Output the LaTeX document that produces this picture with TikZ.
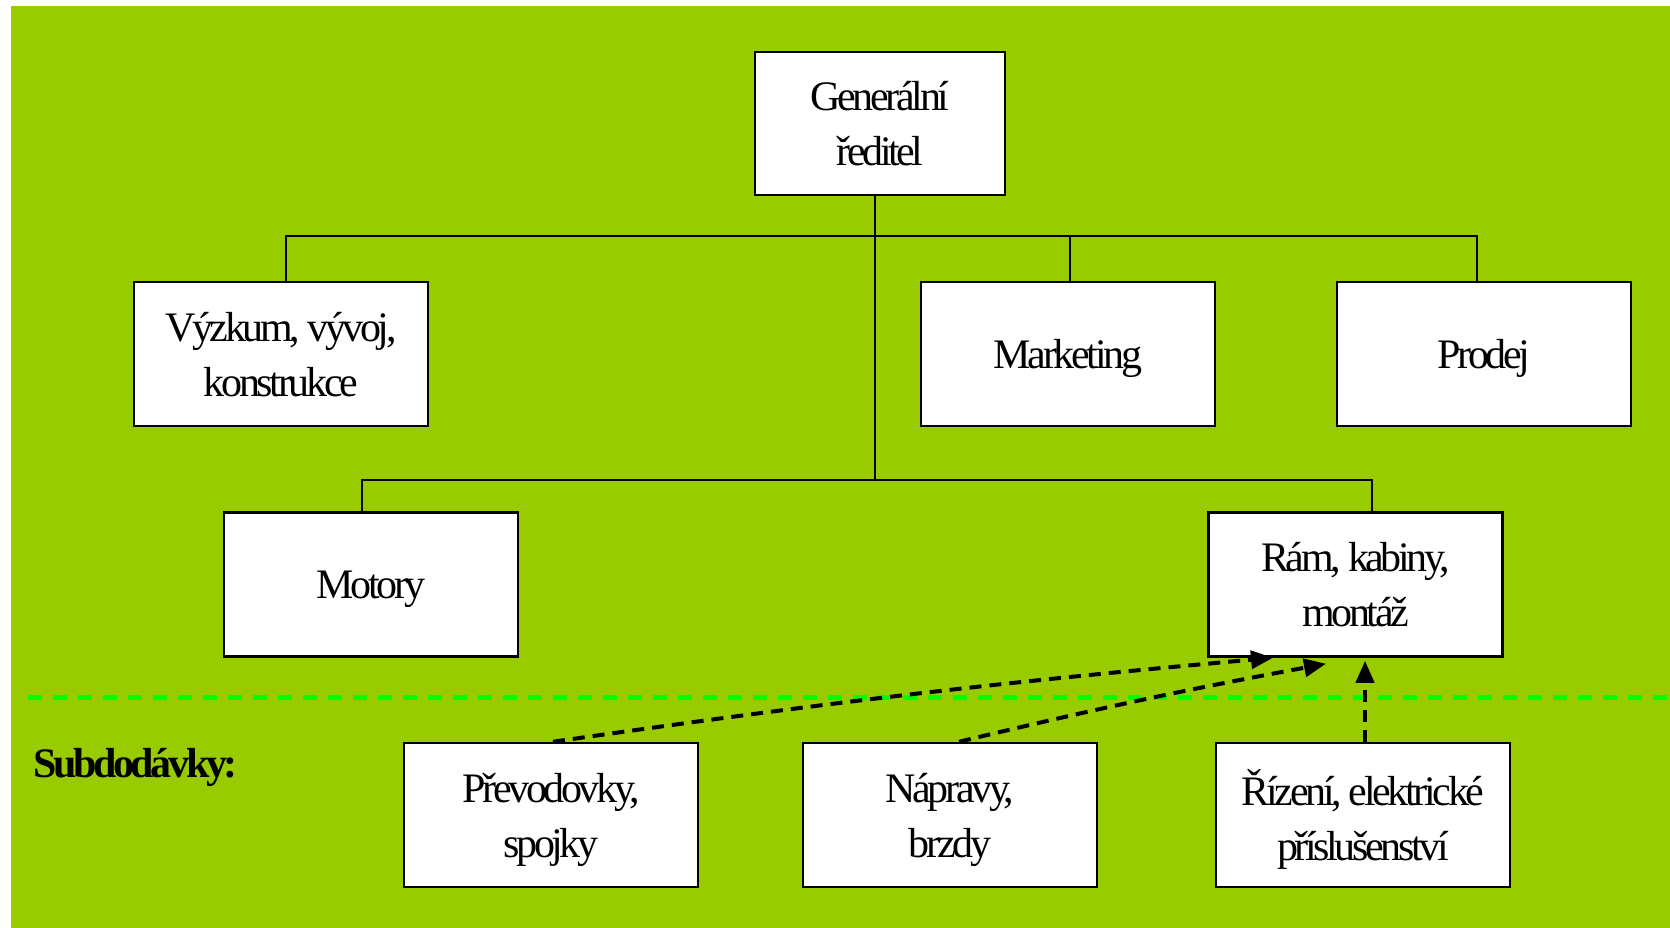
\documentclass[tikz,border=0pt]{standalone}
\usepackage{fontspec}
\setmainfont{Liberation Serif}[LetterSpace=-8]
\usetikzlibrary{arrows.meta}
\definecolor{bggreen}{HTML}{99CC00}
\definecolor{sepgreen}{HTML}{00FF00}
\tikzset{
  unit/.style={draw=black, fill=white, line width=2.5pt, inner sep=0pt,
    minimum width=294pt, minimum height=144pt, align=center, text depth=0pt,
    font=\fontsize{42}{55}\selectfont},
  conn/.style={line width=2pt, black},
  supply/.style={line width=4pt, black, dash pattern=on 12pt off 8pt,
    -{Triangle[length=22pt, width=18pt]}},
  sepline/.style={line width=5pt, sepgreen, dash pattern=on 14pt off 11pt},
}
\begin{document}
\begin{tikzpicture}[x=1pt, y=-1pt]
\useasboundingbox (0,0) rectangle (1670,928);
\fill[bggreen] (11,6) rectangle (1670,928);

% organisation units
\node[unit, minimum width=250pt, minimum height=143pt] (gr) at (880,123.5) {Generální\\ředitel};
\node[unit] (vyzkum) at (281,354) {Výzkum, vývoj,\\konstrukce};
\node[unit] (marketing) at (1068,354) {Marketing};
\node[unit] (prodej) at (1484,354) {Prodej};
\node[unit] (motory) at (371,584.5) {Motory};
\node[unit] (ram) at (1355.5,584.5) {Rám, kabiny,\\montáž};

% subcontracted units
\node[unit] (prevod) at (551,815) {Převodovky,\\spojky};
\node[unit] (napravy) at (950,815) {Nápravy,\\brzdy};
\node[unit] (rizeni) at (1363,815) {Řízení, elektrické\\příslušenství};

\node[anchor=base west, inner sep=0pt, font=\fontsize{42}{55}\selectfont\bfseries] (subd) at (33,777) {Subdodávky:};

% tree connectors
\coordinate (j1) at (875,236);
\coordinate (j2) at (875,480);
\draw[conn] (gr.south -| j1) -- (j2);
\draw[conn] ([xshift=5pt]vyzkum.north) |- (j1) -| ([xshift=-7pt]prodej.north);
\draw[conn] ([xshift=2pt]marketing.north) |- (j1);
\draw[conn] ([xshift=-9pt]motory.north) |- (j2) -| ([xshift=16.5pt]ram.north);

% separator of subcontracts
\coordinate (sepL) at (28,697);
\coordinate (sepR) at (1670,697);
\draw[sepline] (sepL) -- (sepR);

% supply arrows
\draw[supply] ([xshift=2pt]prevod.north) to[bend left=1.5] ([xshift=-82.5pt]ram.south);
\draw[supply] ([xshift=9pt]napravy.north) to[bend left=1.5] ([xshift=-29.5pt, yshift=-6pt]ram.south);
\draw[supply] ([xshift=2pt]rizeni.north) -- ([xshift=2pt, yshift=-3pt]rizeni.north |- ram.south);
\end{tikzpicture}
\end{document}
